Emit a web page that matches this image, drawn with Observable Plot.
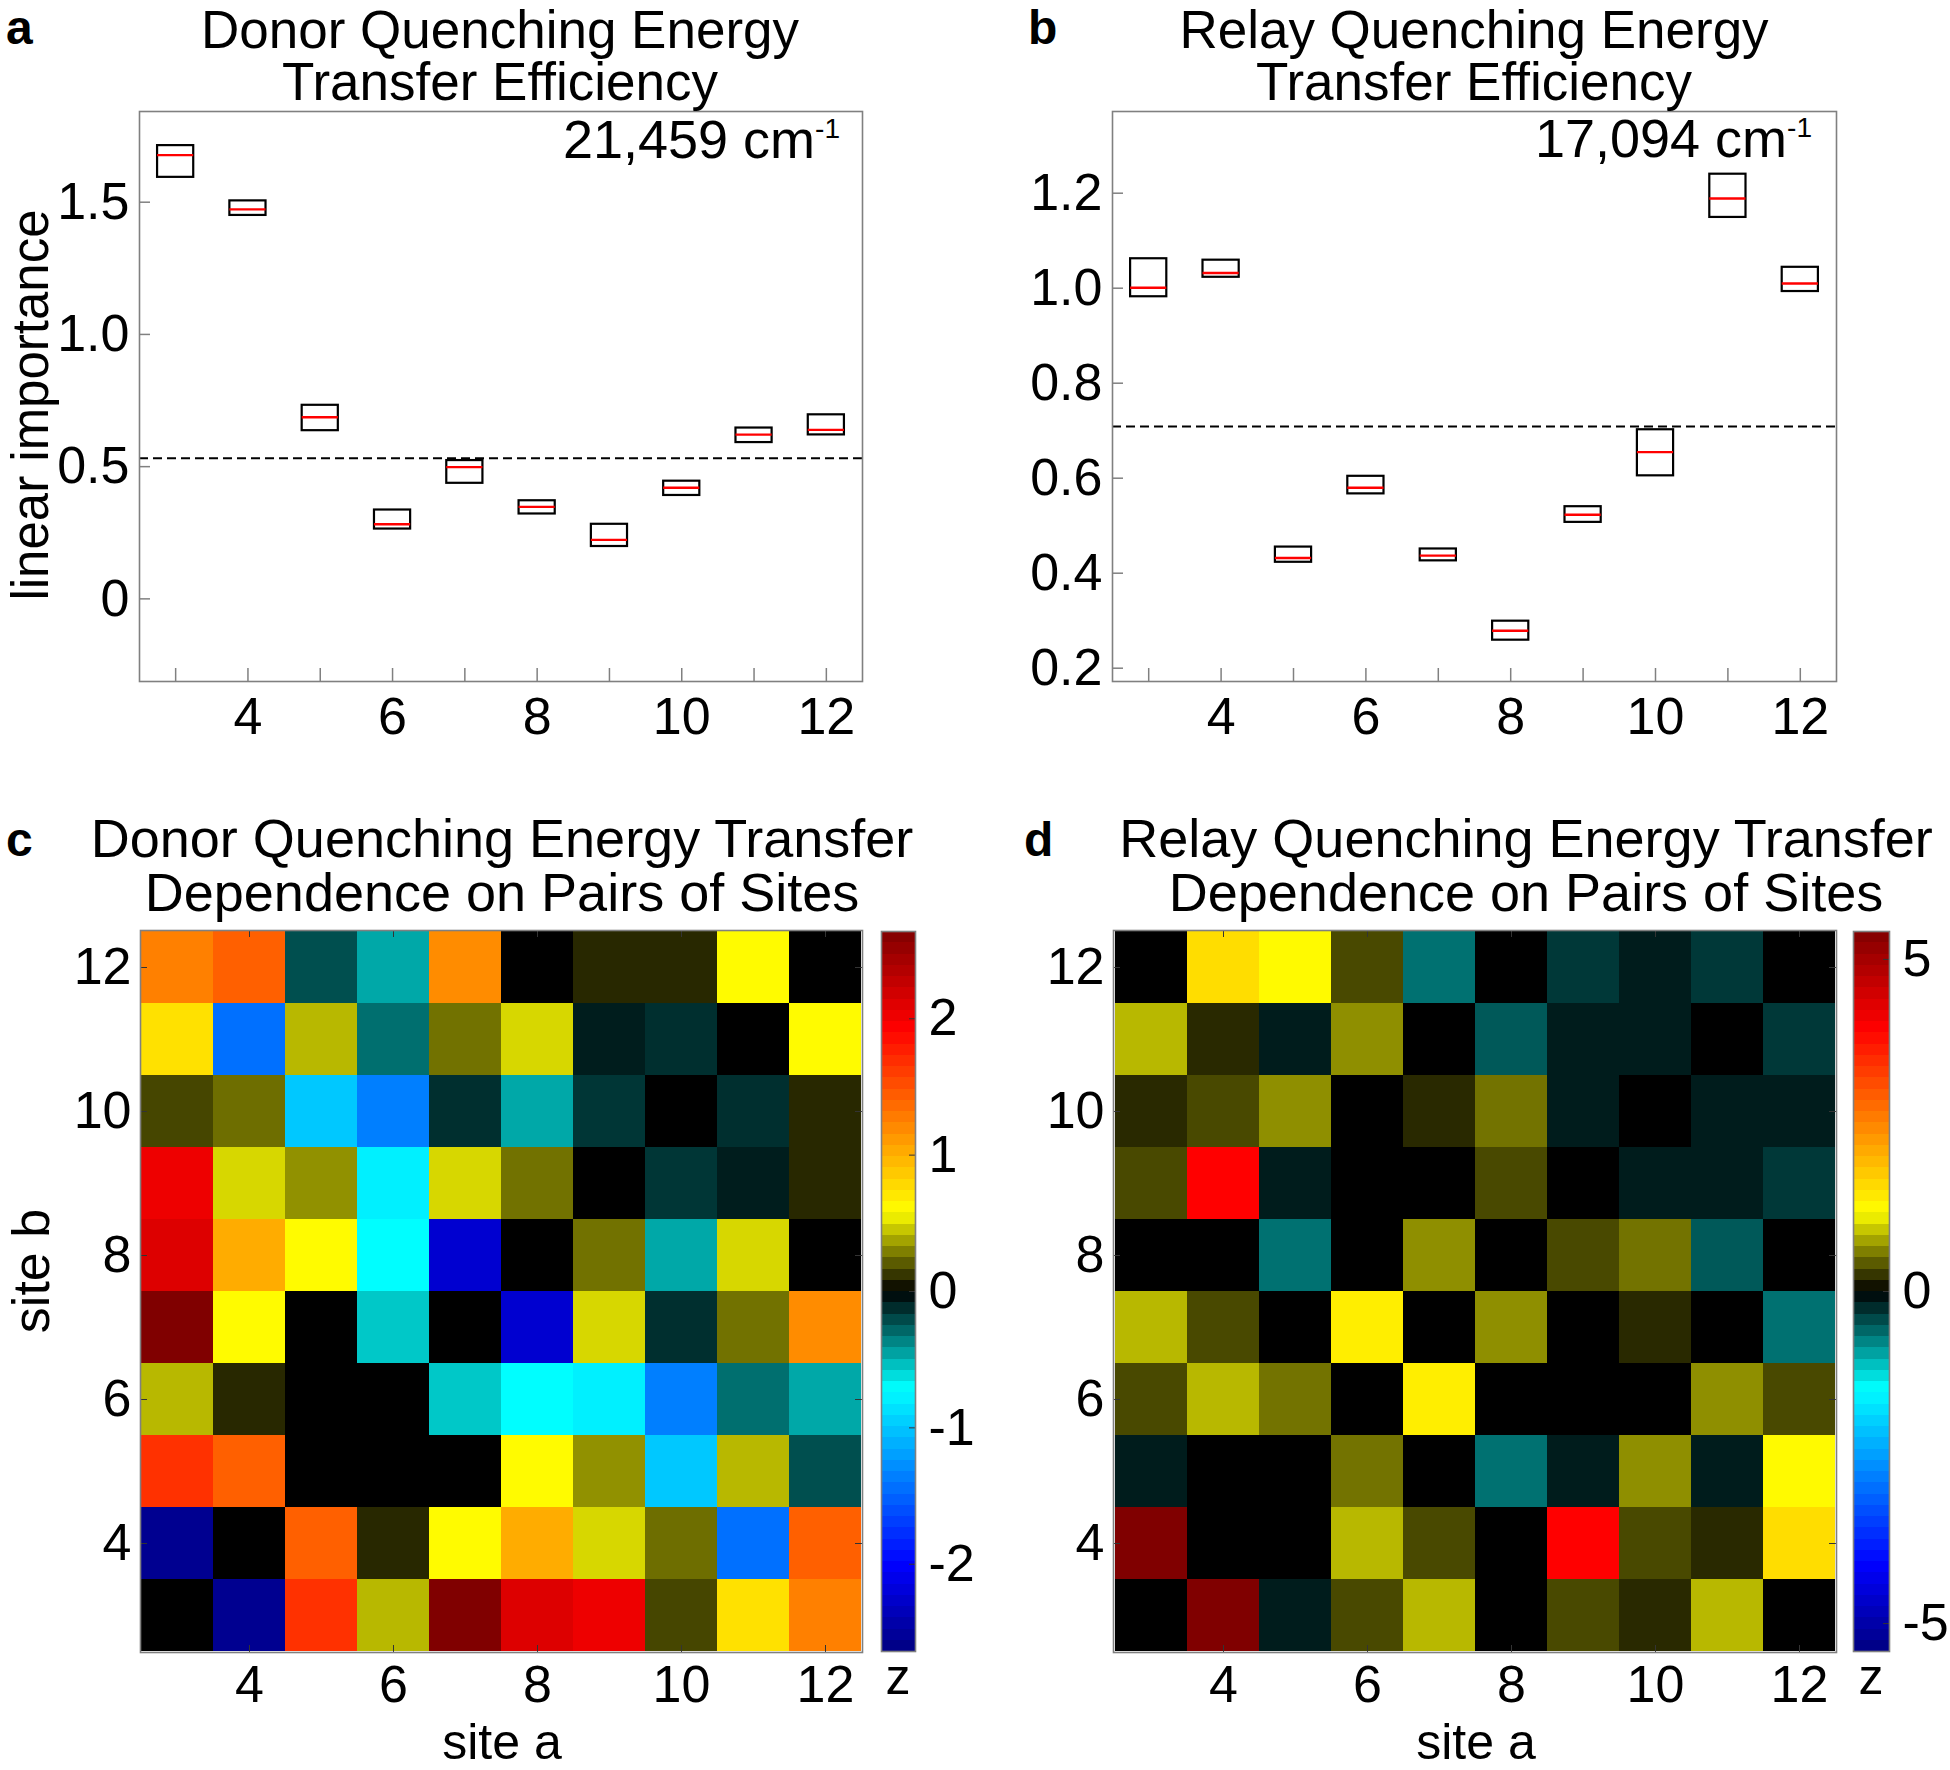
<!DOCTYPE html>
<html>
<head>
<meta charset="utf-8">
<script src="https://cdn.jsdelivr.net/npm/d3@7"></script>
<script src="https://cdn.jsdelivr.net/npm/@observablehq/plot@0.6"></script>
<style>
  html, body { margin: 0; padding: 0; background: #fff; }
  #fig { position: relative; width: 1950px; height: 1770px; background: #fff; overflow: hidden;
         font-family: "Liberation Sans", Arial, Helvetica, sans-serif; color: #000; }
  .txt { position: absolute; white-space: pre; }
  .txt sup { font-size: 0.52em; position: relative; top: -0.72em; vertical-align: baseline; line-height: 0; }
  .panel { position: absolute; }
</style>
</head>
<body>
<div id="fig"></div>
<script>
// ---------------- data ----------------
const sites = [3, 4, 5, 6, 7, 8, 9, 10, 11, 12];
const siteLabels = [4, 6, 8, 10, 12];

// panel a: donor quenching energy transfer efficiency (box: lower edge, median, upper edge)
const donorQ1     = [1.594, 1.450, 0.636, 0.264, 0.437, 0.321, 0.198, 0.391, 0.591, 0.620];
const donorMedian = [1.678, 1.473, 0.687, 0.282, 0.498, 0.348, 0.223, 0.420, 0.621, 0.639];
const donorQ3     = [1.714, 1.505, 0.732, 0.336, 0.523, 0.371, 0.282, 0.445, 0.646, 0.696];
const donorThreshold = 0.532;
const donorYDomain = [-0.3125, 1.843];
const donorYTicks = [0, 0.5, 1.0, 1.5];

// panel b: relay quenching energy transfer efficiency
const relayQ1     = [0.982, 1.023, 0.423, 0.567, 0.426, 0.259, 0.507, 0.605, 1.149, 0.993];
const relayMedian = [1.001, 1.032, 0.432, 0.580, 0.437, 0.279, 0.523, 0.655, 1.189, 1.010];
const relayQ3     = [1.062, 1.059, 0.455, 0.604, 0.451, 0.299, 0.540, 0.702, 1.240, 1.044];
const relayThreshold = 0.709;
const relayYDomain = [0.172, 1.372];
const relayYTicks = [0.2, 0.4, 0.6, 0.8, 1.0, 1.2];

// panels c, d: z values, rows are site b from 12 (top) to 3 (bottom), columns site a 3..12
const pairRowsB = [12, 11, 10, 9, 8, 7, 6, 5, 4, 3];
const donorPairZ = [
  [ 1.25,  1.42, -0.22, -0.47,  1.19,  0.00,  0.09,  0.09,  0.60,  0.00],
  [ 0.74, -1.44,  0.42, -0.31,  0.26,  0.49, -0.08, -0.13,  0.00,  0.60],
  [ 0.16,  0.25, -0.99, -1.36, -0.13, -0.47, -0.15,  0.00, -0.13,  0.09],
  [ 2.02,  0.49,  0.33, -0.79,  0.49,  0.26,  0.00, -0.15, -0.08,  0.09],
  [ 2.12,  1.02,  0.60, -0.72, -2.24,  0.00,  0.26, -0.47,  0.49,  0.00],
  [ 2.64,  0.60,  0.00, -0.56,  0.00, -2.24,  0.49, -0.13,  0.26,  1.19],
  [ 0.42,  0.09,  0.00,  0.00, -0.56, -0.72, -0.79, -1.36, -0.31, -0.47],
  [ 1.67,  1.42,  0.00,  0.00,  0.00,  0.60,  0.33, -0.99,  0.42, -0.22],
  [-2.56,  0.00,  1.42,  0.09,  0.60,  1.02,  0.49,  0.25, -1.44,  1.42],
  [ 0.00, -2.56,  1.67,  0.42,  2.64,  2.12,  2.02,  0.16,  0.74,  1.25]
];
const relayPairZ = [
  [ 0.00,  1.56,  1.25,  0.34, -0.65,  0.00, -0.32, -0.16, -0.32,  0.00],
  [ 0.86,  0.19, -0.16,  0.67,  0.00, -0.51, -0.16, -0.16,  0.00, -0.32],
  [ 0.19,  0.34,  0.67,  0.00,  0.19,  0.54, -0.16,  0.00, -0.16, -0.16],
  [ 0.34,  3.96, -0.16,  0.00,  0.00,  0.34,  0.00, -0.16, -0.16, -0.32],
  [ 0.00,  0.00, -0.65,  0.00,  0.67,  0.00,  0.34,  0.54, -0.51,  0.00],
  [ 0.86,  0.34,  0.00,  1.38,  0.00,  0.67,  0.00,  0.19,  0.00, -0.65],
  [ 0.34,  0.86,  0.54,  0.00,  1.38,  0.00,  0.00,  0.00,  0.67,  0.34],
  [-0.16,  0.00,  0.00,  0.54,  0.00, -0.65, -0.16,  0.67, -0.16,  1.25],
  [ 5.42,  0.00,  0.00,  0.86,  0.34,  0.00,  3.96,  0.34,  0.19,  1.56],
  [ 0.00,  5.42, -0.16,  0.34,  0.86,  0.00,  0.34,  0.19,  0.86,  0.00]
];
const donorZMax = 2.64;
const relayZMax = 5.42;
const donorZTicks = [-2, -1, 0, 1, 2];
const relayZTicks = [-5, 0, 5];

// ---------------- styles ----------------
const FONT = '"Liberation Sans", Arial, Helvetica, sans-serif';
const baseStyle = { fontFamily: FONT, fontSize: "52px", background: "transparent", color: "#000",
                    overflow: "visible", maxWidth: "none" };
const FRAME_GREY = "#808080";
const BOX_HALF = 0.25;
const CMAP_POS = [-1, -0.76, -0.27, 0, 0.22, 0.73, 1];
const CMAP_COLORS = ["#000080", "#0000ff", "#00ffff", "#000000", "#ffff00", "#ff0000", "#800000"];
const colorScale = cmax => ({ type: "linear", domain: CMAP_POS.map(p => p * cmax), range: CMAP_COLORS,
                              interpolate: "rgb", clamp: true });

const fig = document.getElementById("fig");

function layout(box, frame) {
  return {
    width: box.w, height: box.h,
    marginLeft: frame.x1 - box.x, marginRight: box.x + box.w - frame.x2,
    marginTop: frame.y1 - box.y, marginBottom: box.y + box.h - frame.y2
  };
}
function place(node, box) {
  const d = document.createElement("div");
  d.className = "panel";
  d.style.left = box.x + "px"; d.style.top = box.y + "px";
  d.style.width = box.w + "px"; d.style.height = box.h + "px";
  d.appendChild(node);
  fig.appendChild(d);
}

function boxPanel({ q1, med, q3, threshold, yDomain, yTicks, yFormat, box, frame }) {
  const rows = sites.map((site, i) => ({ site, q1: q1[i], med: med[i], q3: q3[i] }));
  const fw = frame.x2 - frame.x1, fh = frame.y2 - frame.y1;
  return Plot.plot({
    ...layout(box, frame),
    style: baseStyle,
    x: { domain: [2.5, 12.5], label: null },
    y: { domain: yDomain, label: null },
    marks: [
      Plot.ruleY([threshold], { y: d => d, stroke: "#000", strokeWidth: 2, strokeDasharray: "9,5" }),
      Plot.rect(rows, { x1: d => d.site - BOX_HALF, x2: d => d.site + BOX_HALF, y1: "q1", y2: "q3",
                        fill: "none", stroke: "#000", strokeWidth: 2.2 }),
      Plot.ruleY(rows, { y: "med", x1: d => d.site - BOX_HALF, x2: d => d.site + BOX_HALF,
                         stroke: "#ff0000", strokeWidth: 2.4 }),
      Plot.tickX(sites, { x: d => d, insetTop: fh - 13, stroke: FRAME_GREY, strokeWidth: 1.5 }),
      Plot.tickY(yTicks, { y: d => d, insetRight: fw - 11, stroke: FRAME_GREY, strokeWidth: 1.5 }),
      Plot.frame({ stroke: FRAME_GREY, strokeWidth: 1.6 }),
      Plot.axisX(siteLabels, { tickSize: 0, tickPadding: 16, tickFormat: d => String(d), label: null }),
      Plot.axisY(yTicks, { tickSize: 0, tickPadding: 10, tickFormat: yFormat, label: null })
    ]
  });
}

function heatPanel({ Z, cmax, box, frame }) {
  const cells = pairRowsB.flatMap((b, i) => sites.map((a, j) => ({ a, b, z: Z[i][j] })));
  const fw = frame.x2 - frame.x1, fh = frame.y2 - frame.y1;
  const tk = { stroke: "#333", strokeWidth: 1 };
  return Plot.plot({
    ...layout(box, frame),
    style: baseStyle,
    x: { type: "band", domain: sites, padding: 0, label: null },
    y: { type: "band", domain: [...sites].reverse(), padding: 0, label: null },
    color: colorScale(cmax),
    marks: [
      Plot.cell(cells, { x: "a", y: "b", fill: "z", inset: 0, shapeRendering: "crispEdges" }),
      Plot.tickX(siteLabels, { x: d => d, insetBottom: fh - 7, ...tk }),
      Plot.tickX(siteLabels, { x: d => d, insetTop: fh - 7, ...tk }),
      Plot.tickY(siteLabels, { y: d => d, insetRight: fw - 7, ...tk }),
      Plot.tickY(siteLabels, { y: d => d, insetLeft: fw - 7, ...tk }),
      Plot.frame({ stroke: FRAME_GREY, strokeWidth: 1.6 }),
      Plot.axisX(siteLabels, { tickSize: 0, tickPadding: 13, tickFormat: d => String(d), label: null }),
      Plot.axisY(siteLabels, { tickSize: 0, tickPadding: 9, tickFormat: d => String(d), label: null })
    ]
  });
}

function colorbar({ cmax, ticks, box, frame }) {
  const n = 64, step = 2 * cmax / n;
  const levels = d3.range(n).map(i => ({ lo: -cmax + i * step, hi: -cmax + (i + 1) * step,
                                         mid: -cmax + (i + 0.5) * step }));
  const fw = frame.x2 - frame.x1;
  return Plot.plot({
    ...layout(box, frame),
    style: baseStyle,
    y: { domain: [-cmax, cmax], label: null },
    color: colorScale(cmax),
    marks: [
      Plot.rect(levels, { y1: "lo", y2: "hi", fill: "mid", shapeRendering: "crispEdges" }),
      Plot.tickY(ticks, { y: d => d, insetLeft: fw - 6, stroke: "#333", strokeWidth: 1 }),
      Plot.frame({ stroke: FRAME_GREY, strokeWidth: 1.6 }),
      Plot.axisY(ticks, { anchor: "right", tickSize: 0, tickPadding: 13, tickFormat: d => String(d), label: null })
    ]
  });
}

// ---------------- panels ----------------
const boxA = { x: 0, y: 100, w: 900, h: 660 }, frameA = { x1: 139, y1: 111, x2: 862, y2: 681 };
const boxB = { x: 1000, y: 100, w: 900, h: 660 }, frameB = { x1: 1112, y1: 111, x2: 1836, y2: 681 };
const boxC = { x: 60, y: 920, w: 820, h: 800 }, frameC = { x1: 140, y1: 930, x2: 862, y2: 1652 };
const boxD = { x: 1030, y: 920, w: 820, h: 800 }, frameD = { x1: 1113, y1: 930, x2: 1836, y2: 1652 };
const boxCC = { x: 870, y: 920, w: 110, h: 780 }, frameCC = { x1: 881, y1: 931, x2: 915, y2: 1651 };
const boxDC = { x: 1845, y: 920, w: 105, h: 780 }, frameDC = { x1: 1853, y1: 931, x2: 1889, y2: 1651 };

place(boxPanel({ q1: donorQ1, med: donorMedian, q3: donorQ3, threshold: donorThreshold,
                 yDomain: donorYDomain, yTicks: donorYTicks,
                 yFormat: d => d === 0 ? "0" : d.toFixed(1), box: boxA, frame: frameA }), boxA);
place(boxPanel({ q1: relayQ1, med: relayMedian, q3: relayQ3, threshold: relayThreshold,
                 yDomain: relayYDomain, yTicks: relayYTicks,
                 yFormat: d => d.toFixed(1), box: boxB, frame: frameB }), boxB);
place(heatPanel({ Z: donorPairZ, cmax: donorZMax, box: boxC, frame: frameC }), boxC);
place(heatPanel({ Z: relayPairZ, cmax: relayZMax, box: boxD, frame: frameD }), boxD);
place(colorbar({ cmax: donorZMax, ticks: donorZTicks, box: boxCC, frame: frameCC }), boxCC);
place(colorbar({ cmax: relayZMax, ticks: relayZTicks, box: boxDC, frame: frameDC }), boxDC);

// ---------------- text ----------------
// y is the baseline of the first line (or the centre, for rotated labels)
function addText(content, { x, y, size = 52, lh = null, anchor = "start", weight = "normal",
                            rotate = false, html = false }) {
  const lineH = lh == null ? size : lh;
  const el = document.createElement("div");
  el.className = "txt";
  el.style.fontSize = size + "px";
  el.style.lineHeight = lineH + "px";
  el.style.fontWeight = weight;
  el.style.textAlign = anchor === "middle" ? "center" : anchor === "end" ? "right" : "left";
  if (html) el.innerHTML = content; else el.textContent = content;
  el.style.left = x + "px";
  if (rotate) {
    el.style.top = y + "px";
    el.style.transform = "translate(-50%,-50%) rotate(-90deg)";
  } else {
    const baselineOffset = (lineH - 1.117 * size) / 2 + 0.905 * size;
    el.style.top = (y - baselineOffset) + "px";
    const tx = anchor === "middle" ? "-50%" : anchor === "end" ? "-100%" : "0";
    el.style.transform = `translateX(${tx})`;
  }
  fig.appendChild(el);
}

addText("a", { x: 6, y: 45, size: 48, weight: "bold" });
addText("b", { x: 1028, y: 45, size: 48, weight: "bold" });
addText("c", { x: 6, y: 857, size: 48, weight: "bold" });
addText("d", { x: 1024, y: 857, size: 48, weight: "bold" });

addText("Donor Quenching Energy\nTransfer Efficiency", { x: 500, y: 48, size: 53, lh: 52, anchor: "middle" });
addText("Relay Quenching Energy\nTransfer Efficiency", { x: 1474, y: 48, size: 53, lh: 52, anchor: "middle" });

addText("21,459 cm<sup>-1</sup>", { x: 840, y: 158, size: 54, anchor: "end", html: true });
addText("17,094 cm<sup>-1</sup>", { x: 1812, y: 157, size: 54, anchor: "end", html: true });

addText("linear importance", { x: 30, y: 405, size: 51, rotate: true });

addText("Donor Quenching Energy Transfer\nDependence on Pairs of Sites", { x: 502, y: 857, size: 54, lh: 54, anchor: "middle" });
addText("Relay Quenching Energy Transfer\nDependence on Pairs of Sites", { x: 1526, y: 857, size: 54, lh: 54, anchor: "middle" });

addText("site b", { x: 31, y: 1271, size: 52, rotate: true });
addText("site a", { x: 502, y: 1759, size: 50, anchor: "middle" });
addText("site a", { x: 1476, y: 1759, size: 50, anchor: "middle" });

addText("z", { x: 898, y: 1694, size: 50, anchor: "middle" });
addText("z", { x: 1871, y: 1694, size: 50, anchor: "middle" });
</script>
</body>
</html>
